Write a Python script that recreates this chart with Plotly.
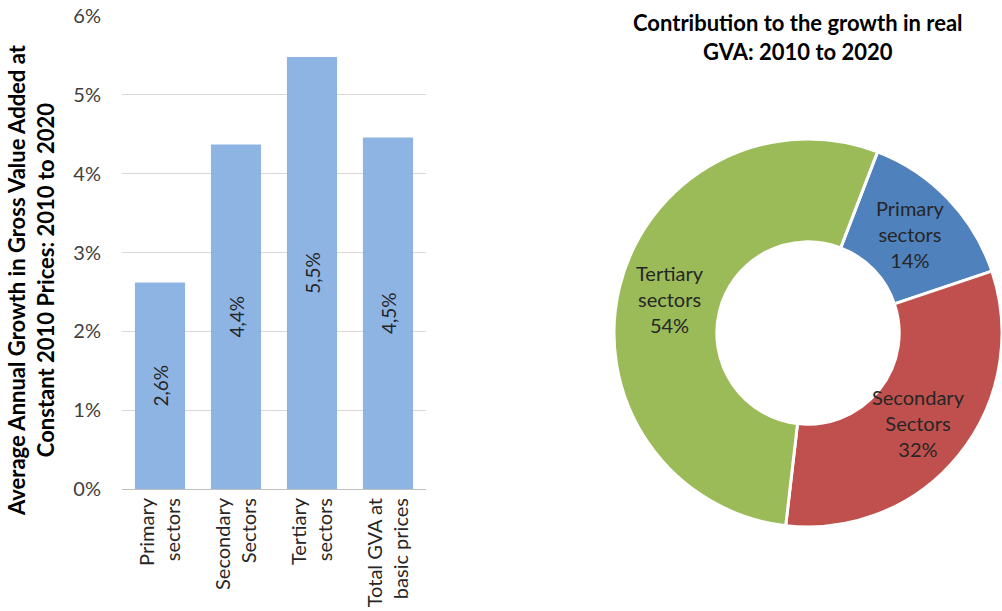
import math
import plotly.graph_objects as go

# Average annual growth in real GVA, 2010-2020
bar_categories = ["Primary<br>sectors", "Secondary<br>Sectors", "Tertiary<br>sectors", "Total GVA at<br>basic prices"]
bar_growth = [0.0262, 0.0437, 0.0548, 0.0446]

# Contribution to real GVA growth, 2010-2020
pie_labels = ["Primary<br>sectors", "Secondary<br>Sectors", "Tertiary<br>sectors"]
pie_shares = [14, 32, 54]
pie_colors = ["#4F81BD", "#C0504D", "#9BBB59"]

y_ticks = [0, 0.01, 0.02, 0.03, 0.04, 0.05, 0.06]

W, H = 1002, 611
FONT = "Lato, 'Open Sans', sans-serif"
TXT = "#262626"

# donut geometry (pixels)
PIE_LEFT, PIE_RIGHT, PIE_TOP, PIE_BOTTOM = 614, 1002, 139, 527
PIE_ROTATION = 21
PIE_HOLE = 0.47


def px_x(p):
    return p / W


def px_y(p):
    return 1 - p / H


fig = go.Figure()

fig.add_trace(go.Bar(
    x=bar_categories,
    y=bar_growth,
    marker=dict(color="#8EB4E3", line=dict(width=0)),
    width=0.66,
    texttemplate="%{y:.1%}",
    textposition="inside",
    insidetextanchor="middle",
    textangle=-90,
    textfont=dict(family=FONT, size=19, color=TXT),
    showlegend=False,
    cliponaxis=False,
))

fig.add_trace(go.Pie(
    labels=pie_labels,
    values=pie_shares,
    sort=False,
    direction="clockwise",
    rotation=PIE_ROTATION,
    hole=PIE_HOLE,
    marker=dict(colors=pie_colors, line=dict(color="white", width=3)),
    textinfo="none",
    domain=dict(x=[px_x(PIE_LEFT), px_x(PIE_RIGHT)], y=[px_y(PIE_BOTTOM), px_y(PIE_TOP)]),
    showlegend=False,
))

# slice labels at the middle of the ring, at each slice's mid angle
cx = (PIE_LEFT + PIE_RIGHT) / 2
cy = (PIE_TOP + PIE_BOTTOM) / 2
radius = (PIE_RIGHT - PIE_LEFT) / 2
r_mid = radius * (1 + PIE_HOLE) / 2
total = sum(pie_shares)
pie_annotations = []
cum = 0
for lab, val in zip(pie_labels, pie_shares):
    mid = PIE_ROTATION + 360 * (cum + val / 2) / total
    cum += val
    ang = math.radians(mid)
    x = cx + r_mid * math.sin(ang)
    y = cy - r_mid * math.cos(ang)
    pie_annotations.append(dict(
        text=f"{lab}<br>{round(100 * val / total)}%",
        x=px_x(x), y=px_y(y), xref="paper", yref="paper",
        xanchor="center", yanchor="middle", showarrow=False,
        font=dict(family=FONT, size=20, color=TXT),
    ))

fig.update_layout(
    width=W, height=H,
    margin=dict(l=0, r=0, t=0, b=0),
    paper_bgcolor="white",
    plot_bgcolor="white",
    separators=",.",
    font=dict(family=FONT, color=TXT),
    xaxis=dict(
        domain=[px_x(122), px_x(426)],
        tickangle=-90,
        tickfont=dict(family=FONT, size=20, color=TXT),
        showgrid=False,
        showline=True,
        linecolor="#BFBFBF",
        linewidth=1,
        ticks="",
        automargin=False,
        fixedrange=True,
    ),
    yaxis=dict(
        domain=[px_y(489), px_y(16)],
        range=[0, 0.06],
        tickvals=y_ticks,
        tickformat=".0%",
        tickfont=dict(family=FONT, size=20, color="#404040"),
        showgrid=True,
        gridcolor="#D9D9D9",
        gridwidth=1,
        zeroline=False,
        showline=False,
        ticks="",
        ticklabelstandoff=20,
        automargin=False,
        fixedrange=True,
    ),
    annotations=[
        dict(
            text="<b>Average Annual Growth in Gross Value Added at<br>Constant 2010 Prices: 2010 to 2020</b>",
            x=px_x(31), y=px_y(280), xref="paper", yref="paper",
            xanchor="center", yanchor="middle",
            textangle=-90, showarrow=False,
            font=dict(family=FONT, size=22, color="#000000"),
        ),
        dict(
            text="<b>Contribution to the growth in real<br>GVA: 2010 to 2020</b>",
            x=px_x(798), y=px_y(37), xref="paper", yref="paper",
            xanchor="center", yanchor="middle",
            showarrow=False,
            font=dict(family=FONT, size=22, color="#000000"),
        ),
    ] + pie_annotations,
)

fig.write_html("out.html")
